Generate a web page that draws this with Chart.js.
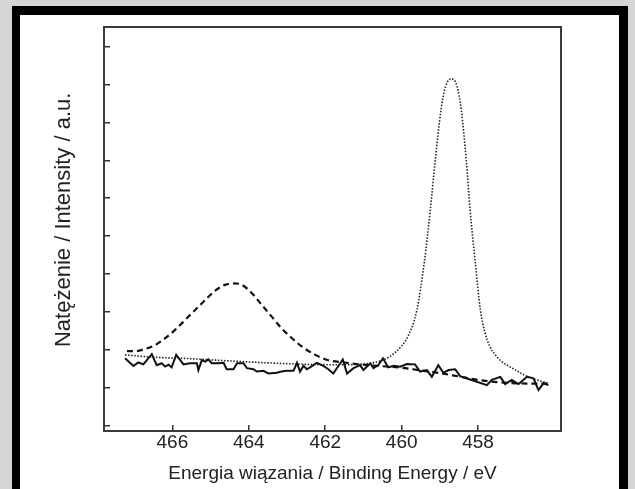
<!DOCTYPE html>
<html>
<head>
<meta charset="utf-8">
<script src="https://cdn.jsdelivr.net/npm/chart.js@4.4.1/dist/chart.umd.min.js"></script>
<style>
  body { margin: 0; background: #d4d5d6; overflow: hidden; width: 635px; height: 489px; position: relative; }
  .frame { position: absolute; left: 12px; top: 6px; width: 616px; height: 520px; box-sizing: border-box;
           border: 8px solid #000; border-top-width: 9px; border-right-width: 9px; border-bottom: none; background: #fff; }
  canvas { position: absolute; left: 0; top: 0; }
</style>
</head>
<body>
<div class="frame"></div>
<canvas id="xps" width="635" height="489"></canvas>
<script>
// binding energy (eV) and intensity (a.u.)
const solidBE = [467.24, 467.02, 466.89, 466.76, 466.54, 466.41, 466.28, 466.19, 466.10, 466.02, 465.90, 465.71,
  465.54, 465.36, 465.32, 465.23, 465.14, 465.06, 464.97, 464.80, 464.66, 464.58, 464.40, 464.31, 464.14, 464.05,
  463.88, 463.79, 463.62, 463.49, 463.27, 463.14, 463.01, 462.83, 462.74, 462.66, 462.57, 462.48, 462.40, 462.22,
  462.05, 461.92, 461.79, 461.54, 461.43, 461.26, 461.09, 461.00, 460.82, 460.74, 460.61, 460.49, 460.35, 460.21,
  460.04, 459.86, 459.65, 459.52, 459.34, 459.21, 459.04, 458.91, 458.77, 458.60, 458.47, 458.21, 457.77, 457.64,
  457.42, 457.29, 457.12, 456.94, 456.72, 456.55, 456.42, 456.29, 456.16];
const solidVal = [1.77, 1.57, 1.66, 1.61, 1.88, 1.59, 1.64, 1.55, 1.60, 1.53, 1.86, 1.61,
  1.64, 1.64, 1.46, 1.72, 1.68, 1.74, 1.64, 1.64, 1.65, 1.48, 1.48, 1.64, 1.64, 1.51,
  1.48, 1.42, 1.44, 1.37, 1.39, 1.42, 1.44, 1.44, 1.65, 1.42, 1.57, 1.48, 1.53, 1.65,
  1.57, 1.48, 1.37, 1.74, 1.37, 1.51, 1.59, 1.46, 1.64, 1.51, 1.59, 1.77, 1.53, 1.57,
  1.55, 1.62, 1.61, 1.42, 1.46, 1.28, 1.59, 1.39, 1.46, 1.48, 1.30, 1.21, 1.06, 1.20,
  1.28, 1.09, 1.20, 1.09, 1.28, 1.24, 0.93, 1.11, 1.06];

const dashedBE = [467.19, 466.98, 466.71, 466.45, 466.19, 465.93, 465.67, 465.40, 465.14, 464.88, 464.62, 464.40,
  464.18, 463.92, 463.66, 463.40, 463.14, 462.87, 462.61, 462.26, 461.92, 461.5, 461.0, 460.5, 460.0, 459.5,
  459.0, 458.5, 458.0, 457.5, 457.0, 456.5, 456.16];
const dashedVal = [1.96, 1.96, 2.02, 2.12, 2.30, 2.52, 2.78, 3.05, 3.31, 3.56, 3.71, 3.75,
  3.71, 3.49, 3.18, 2.87, 2.56, 2.30, 2.08, 1.86, 1.72, 1.66, 1.60, 1.56, 1.52, 1.45,
  1.38, 1.29, 1.20, 1.14, 1.11, 1.10, 1.10];

const dottedBE = [467.24, 466.5, 465.5, 464.5, 463.5, 462.5, 461.5, 461.0, 460.7, 460.45, 460.2, 460.0, 459.82,
  459.6, 459.4, 459.25, 459.12, 458.97, 458.85, 458.69, 458.55, 458.44, 458.31, 458.21, 458.08, 457.94, 457.82,
  457.7, 457.55, 457.4, 457.21, 457.0, 456.82, 456.5, 456.16];
const dottedVal = [1.86, 1.80, 1.76, 1.70, 1.65, 1.61, 1.60, 1.62, 1.66, 1.74, 1.90, 2.10, 2.38,
  3.05, 4.37, 5.69, 7.01, 8.33, 8.95, 9.15, 8.95, 8.33, 7.01, 5.69, 4.37, 3.05, 2.45,
  2.10, 1.86, 1.70, 1.57, 1.45, 1.34, 1.21, 1.11];

const xTicks = [466, 464, 462, 460, 458];
const yTicks = [0, 1, 2, 3, 4, 5, 6, 7, 8, 9, 10];

const pts = (xs, ys) => xs.map((x, i) => ({ x: x, y: ys[i] }));

// box round the plot area
const framePlugin = {
  id: 'frame',
  afterDraw(chart) {
    const a = chart.chartArea;
    const ctx = chart.ctx;
    ctx.save();
    ctx.strokeStyle = '#3a3a3a';
    ctx.lineWidth = 2;
    ctx.strokeRect(a.left, a.top, a.right - a.left, a.bottom - a.top);
    ctx.restore();
  }
};

const font = "'Liberation Sans', Arial, sans-serif";

new Chart(document.getElementById('xps').getContext('2d'), {
  type: 'line',
  data: {
    datasets: [{
      data: pts(dottedBE, dottedVal),
      borderColor: '#222',
      borderWidth: 1.6,
      borderDash: [1.5, 1.6],
      cubicInterpolationMode: 'monotone',
      pointRadius: 0
    }, {
      data: pts(dashedBE, dashedVal),
      borderColor: '#111',
      borderWidth: 2.2,
      borderDash: [6, 4],
      cubicInterpolationMode: 'monotone',
      pointRadius: 0
    }, {
      data: pts(solidBE, solidVal),
      borderColor: '#111',
      borderWidth: 2,
      tension: 0,
      pointRadius: 0
    }]
  },
  options: {
    responsive: false,
    animation: false,
    devicePixelRatio: 1,
    layout: { padding: { top: 27, right: 74, left: 0, bottom: 0 } },
    plugins: { legend: { display: false }, tooltip: { enabled: false } },
    scales: {
      x: {
        type: 'linear',
        reverse: true,
        min: 455.83,
        max: 467.79,
        afterBuildTicks: s => { s.ticks = xTicks.map(v => ({ value: v })); },
        afterFit: s => { s.height = 58; },
        border: { display: false },
        grid: { drawOnChartArea: false, drawTicks: true, tickLength: -6, color: '#333', lineWidth: 1.5 },
        ticks: { padding: 6, color: '#222', font: { family: font, size: 19 } },
        title: {
          display: true,
          text: 'Energia wiązania / Binding Energy / eV',
          color: '#222',
          font: { family: font, size: 19 },
          padding: { top: 0, bottom: 4 }
        }
      },
      y: {
        min: -0.15,
        max: 10.52,
        afterBuildTicks: s => { s.ticks = yTicks.map(v => ({ value: v })); },
        afterFit: s => { s.width = 104; },
        border: { display: false },
        grid: { drawOnChartArea: false, drawTicks: true, tickLength: -6, color: '#333', lineWidth: 1.5 },
        ticks: { display: false },
        title: {
          display: true,
          text: '   Natężenie / Intensity / a.u.',
          color: '#222',
          font: { family: font, size: 22 },
          padding: { top: 51, bottom: 0 }
        }
      }
    }
  },
  plugins: [framePlugin]
});
</script>
</body>
</html>
